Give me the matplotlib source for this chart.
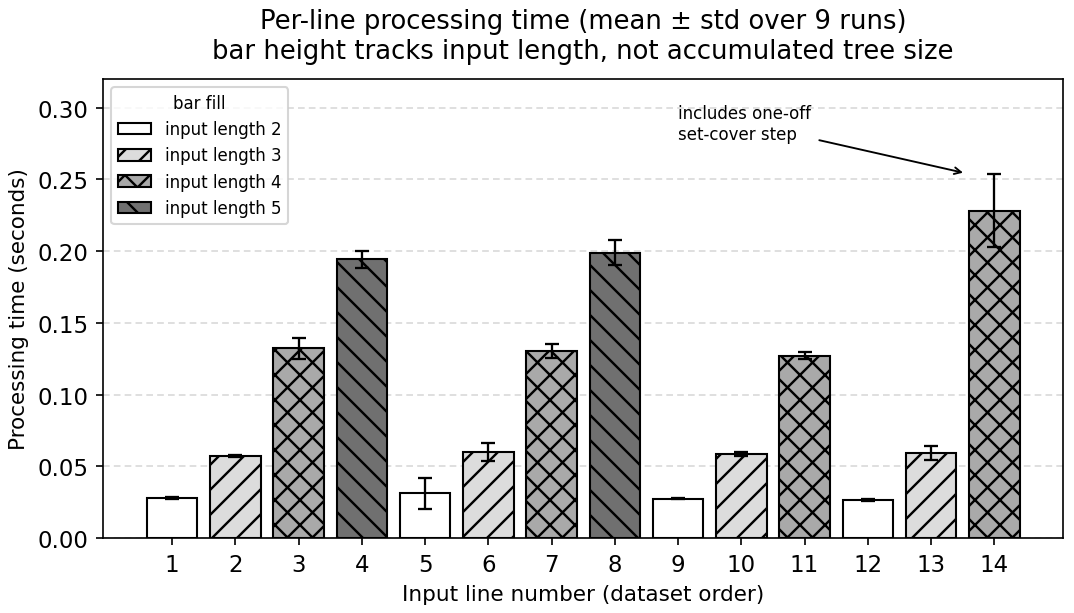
import matplotlib
matplotlib.use("Agg")
import matplotlib.pyplot as plt
from matplotlib.patches import Patch

lines = list(range(1, 15))
input_len = [2, 3, 4, 5, 2, 3, 4, 5, 2, 3, 4, 2, 3, 4]
means = [0.0278, 0.0572, 0.1322, 0.1942, 0.0312, 0.0600, 0.1305, 0.1990,
         0.0275, 0.0585, 0.1270, 0.0265, 0.0595, 0.2280]
stds = [0.0005, 0.0008, 0.0075, 0.0060, 0.0108, 0.0065, 0.0048, 0.0090,
        0.0005, 0.0012, 0.0025, 0.0004, 0.0050, 0.0255]

styles = {2: ("white", ""), 3: ("#dcdcdc", "//"), 4: ("#a9a9a9", "xx"), 5: ("#707070", "\\\\")}

plt.rcParams['hatch.linewidth'] = 1.15
fig, ax = plt.subplots(figsize=(7.16, 4.093), dpi=150)
ax.set_axisbelow(True)
ax.yaxis.grid(True, linestyle="--", color="#d9d9d9", linewidth=0.8, dashes=(4, 2.5))

for x, m, s, L in zip(lines, means, stds, input_len):
    fc, h = styles[L]
    ax.bar(x, m, width=0.8, color=fc, edgecolor="black", linewidth=1.0, hatch=h,
           yerr=s, capsize=3.5, error_kw=dict(elinewidth=1.1, capthick=1.1, ecolor="black"))

ax.set_xticks(lines)
ax.set_xticklabels([str(i) for i in lines], fontsize=11)
ax.tick_params(axis='y', labelsize=11)
ax.set_ylim(0, 0.32)
ax.set_yticks([0, 0.05, 0.10, 0.15, 0.20, 0.25, 0.30])
ax.set_yticklabels([f"{v:.2f}" for v in [0, 0.05, 0.10, 0.15, 0.20, 0.25, 0.30]])
ax.set_xlabel("Input line number (dataset order)", fontsize=10.3)
ax.set_ylabel("Processing time (seconds)", fontsize=10.3)
ax.set_title("Per-line processing time (mean ± std over 9 runs)\nbar height tracks input length, not accumulated tree size",
             fontsize=12.4, pad=10)

handles = [Patch(facecolor=styles[L][0], edgecolor="black", hatch=styles[L][1], linewidth=1.0,
                 label=f"input length {L}") for L in [2, 3, 4, 5]]
ax.legend(handles=handles, title="bar fill", loc="upper left", fontsize=8, title_fontsize=8)

ax.annotate("includes one-off\nset-cover step", xy=(13.57, 0.254), xytext=(9.0, 0.2755),
            fontsize=8, ha="left", va="bottom",
            arrowprops=dict(arrowstyle="->", color="black", linewidth=0.9))

fig.subplots_adjust(left=0.096, right=0.99, top=0.87, bottom=0.122)
fig.savefig("out.png", dpi=150)
